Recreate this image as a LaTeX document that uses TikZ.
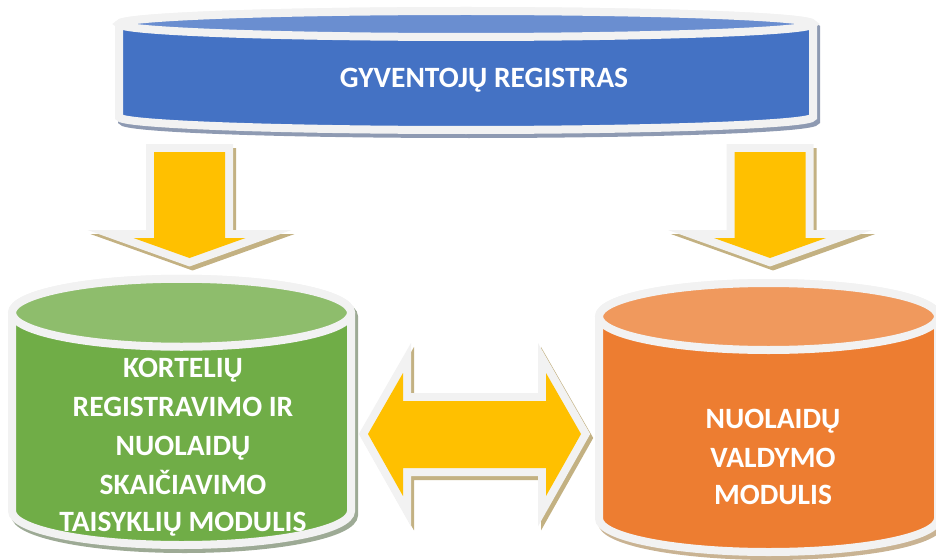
\documentclass[tikz,border=0pt]{standalone}
\usepackage{fontspec}
\setmainfont{Carlito}
\definecolor{outl}{HTML}{F2F2F2}
\definecolor{bluebody}{HTML}{4472C4}
\definecolor{bluetop}{HTML}{6A8ED0}
\definecolor{blueshad}{HTML}{8E9AB2}
\definecolor{greenbody}{HTML}{70AD47}
\definecolor{greentop}{HTML}{8EBD6C}
\definecolor{greenshad}{HTML}{9DAA95}
\definecolor{orangebody}{HTML}{ED7D31}
\definecolor{orangetop}{HTML}{F0995D}
\definecolor{orangeshad}{HTML}{C9B393}
\definecolor{arrowy}{HTML}{FFC000}
\definecolor{arrowshad}{HTML}{C3B182}
\newcommand\cylpath[5]{(#1-#2,#3) -- (#1-#2,#4) arc[start angle=180,end angle=360,x radius=#2pt,y radius=#5pt] -- (#1+#2,#3) arc[start angle=0,end angle=180,x radius=#2pt,y radius=#5pt] -- cycle}
\newcommand\cyl[8]{%
  \path[fill=#8,draw=#8,line width=8pt,shift={(3pt,-4pt)}] \cylpath{#1}{#2}{#3}{#4}{#5};
  \path[fill=#6,draw=outl,line width=8pt] \cylpath{#1}{#2}{#3}{#4}{#5};
  \path[fill=#7,draw=outl,line width=8pt] (#1,#3) ellipse [x radius=#2pt,y radius=#5pt];
}
\newcommand\downarr[1]{(#1-35.5,152) -- (#1+35.5,152) -- (#1+35.5,238) -- (#1+56,238) -- (#1,258) -- (#1-56,238) -- (#1-35.5,238) -- cycle}
\newcommand\dblarr{(368,434) -- (403,373) -- (403,401) -- (546,401) -- (546,373) -- (581,434) -- (546,496) -- (546,468) -- (403,468) -- (403,496) -- cycle}
\tikzset{
  blockshadow/.style={fill=arrowshad,draw=arrowshad,line width=16pt,shift={(3pt,-4pt)}},
  blockoutline/.style={draw=outl,line width=16pt},
  blockfill/.style={fill=arrowy},
  lbl/.style={anchor=base,text=white,inner sep=0pt,font=\bfseries\fontsize{29.5}{35}\selectfont}
}
\begin{document}
\begin{tikzpicture}[x=1pt,y=-1pt,line join=miter]
\useasboundingbox (0,0) rectangle (936,559);
% top cylinder
\cyl{466}{347}{24}{117}{13}{bluebody}{bluetop}{blueshad}
\node[lbl] (reg) at (484,88) {GYVENTOJŲ REGISTRAS};
% down arrows
\path[blockshadow] \downarr{189.5};
\path[blockoutline] \downarr{189.5};
\path[blockfill] \downarr{189.5};
\path[blockshadow] \downarr{770};
\path[blockoutline] \downarr{770};
\path[blockfill] \downarr{770};
% green cylinder
\cyl{181.5}{169.5}{312.75}{511}{34}{greenbody}{greentop}{greenshad}
\node[lbl] (g1) at (183,377.5) {KORTELIŲ};
\node[lbl] (g2) at (183,416.5) {REGISTRAVIMO IR};
\node[lbl] (g3) at (183,455.5) {NUOLAIDŲ};
\node[lbl] (g4) at (183,494.5) {SKAIČIAVIMO};
\node[lbl] (g5) at (183,531.5) {TAISYKLIŲ MODULIS};
% orange cylinder
\cyl{768.5}{169.5}{316.5}{518.5}{33.5}{orangebody}{orangetop}{orangeshad}
\node[lbl] (o1) at (773,428.5) {NUOLAIDŲ};
\node[lbl] (o2) at (773,467.5) {VALDYMO};
\node[lbl] (o3) at (773,504.5) {MODULIS};
% double arrow
\path[blockshadow] \dblarr;
\path[blockoutline] \dblarr;
\path[blockfill] \dblarr;
\end{tikzpicture}
\end{document}
